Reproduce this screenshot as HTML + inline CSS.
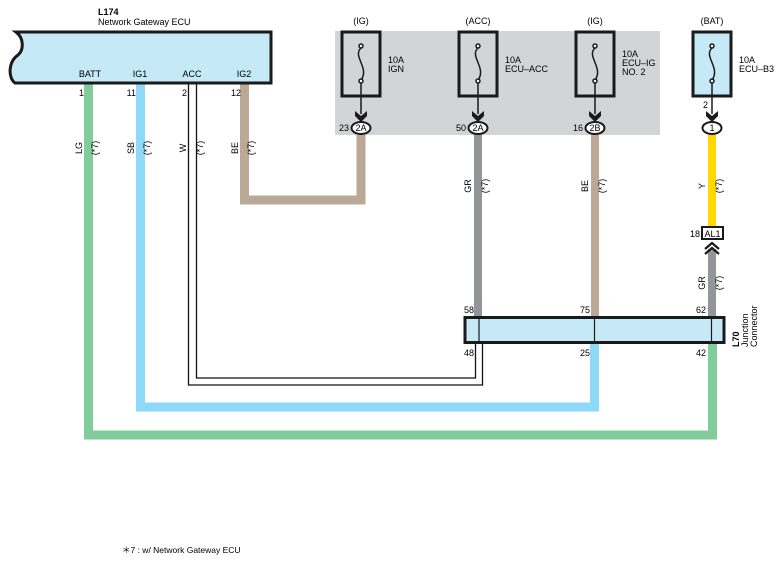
<!DOCTYPE html>
<html><head><meta charset="utf-8"><style>
html,body{margin:0;padding:0;background:#fff;}
svg{display:block;font-family:"Liberation Sans",Arial,sans-serif;}
</style></head><body>
<svg width="783" height="565" viewBox="0 0 783 565" xmlns="http://www.w3.org/2000/svg">
<rect x="335" y="31" width="325" height="104" fill="#d3d4d6"/>

<polyline points="88.5,84 88.5,435 712.5,435 712.5,343" fill="none" stroke="#80cc9a" stroke-width="9"/>
<polyline points="140.5,84 140.5,407 594.5,407 594.5,343" fill="none" stroke="#8ed8f8" stroke-width="9"/>
<polyline points="244.5,84 244.5,200 361,200 361,135" fill="none" stroke="#bca897" stroke-width="9"/>
<polyline points="188.5,84 188.5,385 482.5,385 482.5,343" fill="none" stroke="#111" stroke-width="1.3"/>
<polyline points="196.5,84 196.5,378 475.5,378 475.5,343" fill="none" stroke="#111" stroke-width="1.3"/>
<line x1="478" y1="134" x2="478" y2="317" stroke="#939598" stroke-width="8"/>
<line x1="595" y1="134" x2="595" y2="317" stroke="#bca897" stroke-width="8"/>
<line x1="712" y1="134" x2="712" y2="227" stroke="#ffd800" stroke-width="8"/>
<line x1="712" y1="249" x2="712" y2="317" stroke="#939598" stroke-width="8"/>

<text x="98" y="15" font-size="9" font-weight="bold">L174</text>
<text x="98" y="25" font-size="9">Network Gateway ECU</text>
<path d="M16,32 L271,32 L271,83 L15,83 C8,78 8,62 18,55 C24,50 24,38 16,32 Z" fill="#c6e9f8" stroke="#1a1a1a" stroke-width="3"/>
<g font-size="9" text-anchor="middle">
<text x="90" y="77">BATT</text><text x="140" y="77">IG1</text><text x="192" y="77">ACC</text><text x="244" y="77">IG2</text>
</g>
<g font-size="9" text-anchor="end">
<text x="84" y="96">1</text><text x="136" y="96">11</text><text x="187" y="96">2</text><text x="241" y="96">12</text>
</g>

<g font-size="9" text-anchor="middle">
<text transform="translate(82,148) rotate(-90)">LG</text><text transform="translate(98,148) rotate(-90)">(*7)</text>
<text transform="translate(134,148) rotate(-90)">SB</text><text transform="translate(150,148) rotate(-90)">(*7)</text>
<text transform="translate(186,148) rotate(-90)">W</text><text transform="translate(203,148) rotate(-90)">(*7)</text>
<text transform="translate(238,148) rotate(-90)">BE</text><text transform="translate(254,148) rotate(-90)">(*7)</text>
<text transform="translate(471,186) rotate(-90)">GR</text><text transform="translate(488,186) rotate(-90)">(*7)</text>
<text transform="translate(588,186) rotate(-90)">BE</text><text transform="translate(605,186) rotate(-90)">(*7)</text>
<text transform="translate(705,186) rotate(-90)">Y</text><text transform="translate(722,186) rotate(-90)">(*7)</text>
<text transform="translate(705,283) rotate(-90)">GR</text><text transform="translate(722,283) rotate(-90)">(*7)</text>
</g>

<g font-size="9">
<g>
<text x="361" y="24" text-anchor="middle">(IG)</text>
<rect x="342" y="32" width="38" height="64" fill="none" stroke="#1a1a1a" stroke-width="3"/>
<text x="388" y="63">10A</text><text x="388" y="72">IGN</text>
</g>
<g>
<text x="478" y="24" text-anchor="middle">(ACC)</text>
<rect x="459" y="32" width="38" height="64" fill="none" stroke="#1a1a1a" stroke-width="3"/>
<text x="505" y="63">10A</text><text x="505" y="72">ECU–ACC</text>
</g>
<g>
<text x="595" y="24" text-anchor="middle">(IG)</text>
<rect x="576" y="32" width="38" height="64" fill="none" stroke="#1a1a1a" stroke-width="3"/>
<text x="622" y="57">10A</text><text x="622" y="66">ECU–IG</text><text x="622" y="75">NO. 2</text>
</g>
<g>
<text x="712" y="24" text-anchor="middle">(BAT)</text>
<rect x="693" y="32" width="38" height="64" fill="#c6e9f8" stroke="#1a1a1a" stroke-width="3"/>
<text x="739" y="63">10A</text><text x="739" y="72">ECU–B3</text>
</g>
</g>
<g fill="none" stroke="#1a1a1a" stroke-width="1.5">
<path d="M361,48 C352,56 370,68 361,80"/><circle cx="361" cy="46" r="2" fill="#fff"/><circle cx="361" cy="81" r="2" fill="#fff"/>
<path d="M478,48 C469,56 487,68 478,80"/><circle cx="478" cy="46" r="2" fill="#fff"/><circle cx="478" cy="81" r="2" fill="#fff"/>
<path d="M595,48 C586,56 604,68 595,80"/><circle cx="595" cy="46" r="2" fill="#fff"/><circle cx="595" cy="81" r="2" fill="#fff"/>
<path d="M712,48 C703,56 721,68 712,80"/><circle cx="712" cy="46" r="2" fill="#fff"/><circle cx="712" cy="81" r="2" fill="#fff"/>
<line x1="361" y1="83" x2="361" y2="114"/><line x1="478" y1="83" x2="478" y2="114"/>
<line x1="595" y1="83" x2="595" y2="114"/><line x1="712" y1="83" x2="712" y2="114"/>
</g>
<g fill="#1a1a1a">
<polygon points="355,111 361,116 367,111 367,116 361,122 355,116"/>
<polygon points="472,111 478,116 484,111 484,116 478,122 472,116"/>
<polygon points="589,111 595,116 601,111 601,116 595,122 589,116"/>
<polygon points="706,111 712,116 718,111 718,116 712,122 706,116"/>
</g>
<g font-size="9" text-anchor="middle">
<ellipse cx="361" cy="128" rx="9.5" ry="6" fill="#fff" stroke="#1a1a1a" stroke-width="2"/><text x="361" y="131">2A</text>
<ellipse cx="478" cy="128" rx="9.5" ry="6" fill="#fff" stroke="#1a1a1a" stroke-width="2"/><text x="478" y="131">2A</text>
<ellipse cx="595" cy="128" rx="9.5" ry="6" fill="#fff" stroke="#1a1a1a" stroke-width="2"/><text x="595" y="131">2B</text>
<ellipse cx="712" cy="128" rx="9.5" ry="6" fill="#fff" stroke="#1a1a1a" stroke-width="2"/><text x="712" y="131">1</text>
</g>
<g font-size="9" text-anchor="end">
<text x="349" y="131">23</text><text x="466" y="131">50</text><text x="583" y="131">16</text><text x="708" y="108">2</text>
<text x="700" y="237">18</text>
</g>

<rect x="702" y="227" width="21" height="12" fill="#fff" stroke="#1a1a1a" stroke-width="2"/>
<text x="712.5" y="237" font-size="9" text-anchor="middle">AL1</text>
<g fill="none" stroke="#1a1a1a" stroke-width="2.2">
<polyline points="705,249 712,243 719,249"/><polyline points="705,254 712,248 719,254"/>
</g>

<rect x="465" y="317.5" width="259" height="25" fill="#c6e9f8" stroke="#1a1a1a" stroke-width="3"/>
<g stroke="#1a1a1a" stroke-width="1.2">
<line x1="479" y1="318" x2="479" y2="342"/><line x1="594.5" y1="318" x2="594.5" y2="342"/><line x1="711.5" y1="318" x2="711.5" y2="342"/>
</g>
<g font-size="9" text-anchor="middle">
<text x="469" y="313">58</text><text x="585" y="313">75</text><text x="701" y="313">62</text>
<text x="469" y="356">48</text><text x="585" y="356">25</text><text x="701" y="356">42</text>
</g>
<g font-size="9">
<text transform="translate(739,347) rotate(-90)" font-weight="bold">L70</text>
<text transform="translate(748,347) rotate(-90)">Junction</text>
<text transform="translate(757,347) rotate(-90)">Connector</text>
</g>

<text x="122" y="553" font-size="8.5">＊7 : w/ Network Gateway ECU</text>
</svg>
</body></html>
